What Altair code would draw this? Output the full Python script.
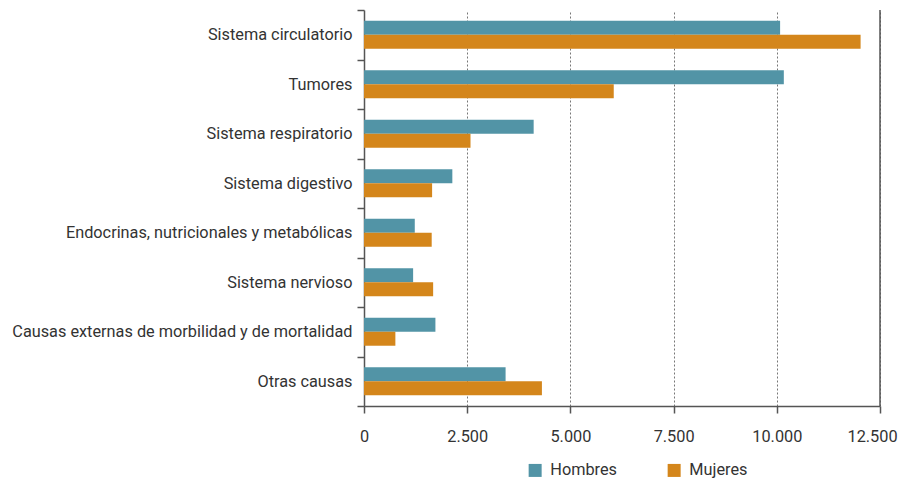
import altair as alt
import pandas as pd

categories = [
    "Sistema circulatorio",
    "Tumores",
    "Sistema respiratorio",
    "Sistema digestivo",
    "Endocrinas, nutricionales y metabólicas",
    "Sistema nervioso",
    "Causas externas de morbilidad y de mortalidad",
    "Otras causas",
]
hombres = [10080, 10170, 4110, 2140, 1230, 1190, 1730, 3430]
mujeres = [12030, 6050, 2580, 1650, 1640, 1675, 760, 4310]
series = ["Hombres", "Mujeres"]
colors = ["#5294a6", "#d4861b"]
x_ticks = [0, 2500, 5000, 7500, 10000, 12500]

rows = []
for c, h, m in zip(categories, hombres, mujeres):
    rows.append({"causa": c, "sexo": "Hombres", "valor": h})
    rows.append({"causa": c, "sexo": "Mujeres", "valor": m})
df = pd.DataFrame(rows)

FONT = "Roboto"
TXT = "#333333"
AX = "#555555"
FS = 16.3

bars = alt.Chart(df).mark_bar().encode(
    y=alt.Y(
        "causa:N",
        sort=categories,
        title=None,
        scale=alt.Scale(paddingInner=0, paddingOuter=0),
        axis=alt.Axis(
            tickBand="extent",
            labelFont=FONT,
            labelFontSize=FS,
            labelColor=TXT,
            domainColor=AX,
            tickColor=AX,
            domainWidth=1.5,
            tickWidth=1.5,
            tickSize=7,
            labelPadding=5,
            labelLimit=500,
            grid=False,
        ),
    ),
    yOffset=alt.YOffset(
        "sexo:N", sort=series, scale=alt.Scale(paddingInner=0, paddingOuter=0.77)
    ),
    x=alt.X(
        "valor:Q",
        title=None,
        scale=alt.Scale(domain=[0, 12500], nice=False),
        axis=alt.Axis(
            values=x_ticks,
            labelExpr="replace(format(datum.value, ','), ',', '.')",
            labelFont=FONT,
            labelFontSize=FS,
            labelColor=TXT,
            domainColor=AX,
            tickColor=AX,
            domainWidth=1.5,
            tickWidth=1.5,
            tickSize=7,
            labelPadding=15,
            labelOffset={"condition": {"test": "datum.value == 12500", "value": -8}, "value": 0},
            grid=True,
            gridColor="#777777",
            gridDash=[2, 2],
            gridWidth=1,
            labelFlush=False,
        ),
    ),
    color=alt.Color(
        "sexo:N",
        sort=series,
        scale=alt.Scale(domain=series, range=colors),
        legend=alt.Legend(
            title=None,
            orient="none",
            legendX=163,
            legendY=452,
            direction="horizontal",
            symbolType="square",
            symbolSize=169,
            symbolStrokeWidth=0,
            labelFont=FONT,
            labelFontSize=FS,
            labelColor=TXT,
            labelOffset=7,
            columnPadding=48,
            padding=0,
        ),
    ),
)

edge = alt.Chart(pd.DataFrame({"valor": [12500]})).mark_rule(
    color=AX, strokeWidth=1.5
).encode(x="valor:Q")

chart = (
    alt.layer(bars, edge)
    .properties(
        width=516,
        height=396,
        autosize=alt.AutoSizeParams(type="none"),
        padding={"left": 356, "top": 2, "right": 19, "bottom": 76},
    )
    .configure_view(stroke=None)
)

chart.save("out.html", embed_options={"renderer": "svg", "actions": False})
